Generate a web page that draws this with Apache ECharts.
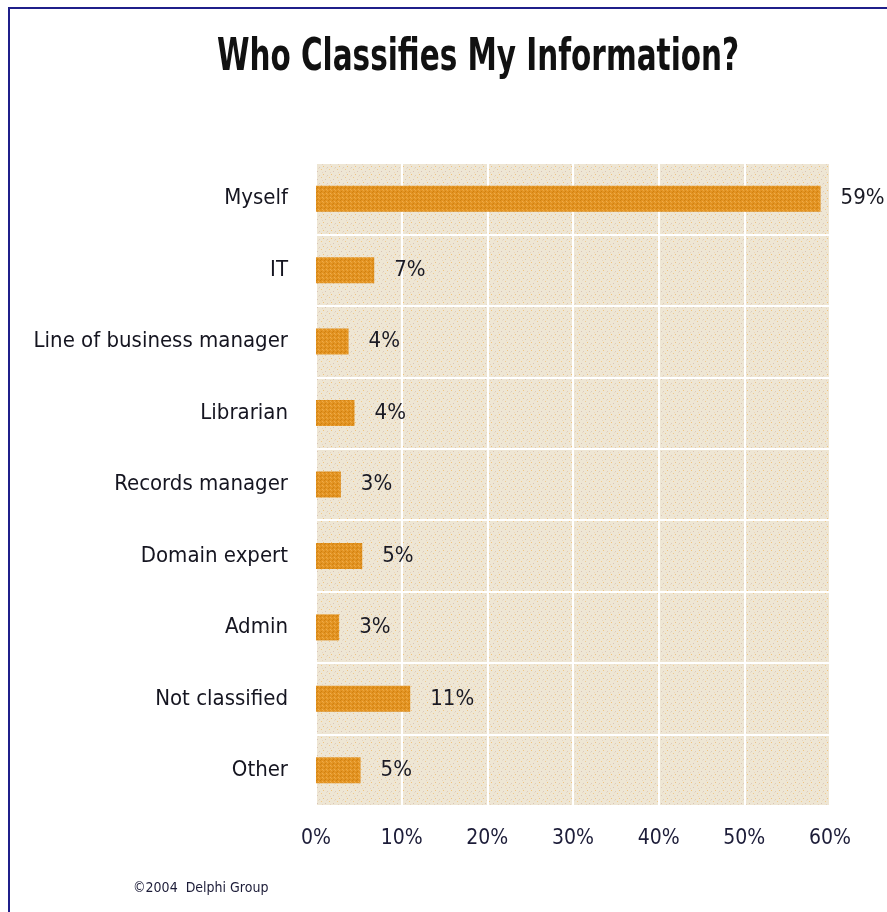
<!DOCTYPE html>
<html>
<head>
<meta charset="utf-8">
<script src="https://cdn.jsdelivr.net/npm/echarts@6/dist/echarts.min.js"></script>
<style>
html,body{margin:0;padding:0;background:#fff;}
#chart{width:887px;height:912px;}
</style>
</head>
<body>
<div id="chart"></div>
<script>
const categories = ["Myself","IT","Line of business manager","Librarian","Records manager","Domain expert","Admin","Not classified","Other"];
const values = [58.9, 6.8, 3.8, 4.5, 2.9, 5.4, 2.7, 11.0, 5.2];
const valueLabels = ["59%","7%","4%","4%","3%","5%","3%","11%","5%"];
const tickValues = [0,10,20,30,40,50,60];
const titleText = 'Who Classifies My Information?';
const sourceText = '©2004  Delphi Group';

function makePattern(base, dots, size){
  const c = document.createElement('canvas');
  c.width = size; c.height = size;
  const g = c.getContext('2d');
  g.fillStyle = base; g.fillRect(0,0,size,size);
  dots.forEach(d => { g.fillStyle = d[2]; g.fillRect(d[0], d[1], 1, 1); });
  return c;
}
const bgPattern = makePattern('#EEE6D4', [[1,1,'#F2C98A'],[5,3,'#D9C3B5'],[3,6,'#F0C27C'],[7,7,'#DCC9BC'],[6,0,'#E8D9C4'],[2,4,'#E6D3C0']], 8);
const barPattern = makePattern('#E39322', [[0,0,'#D08312'],[2,1,'#EDAD4C'],[1,3,'#CE8110'],[3,2,'#E9A740']], 4);

const chart = echarts.init(document.getElementById('chart'), null, {renderer:'canvas'});
const FONT = '"Liberation Sans Narrow", "DejaVu Sans Condensed", "Liberation Sans", sans-serif';
chart.setOption({
  animation: false,
  backgroundColor: '#ffffff',
  grid: {
    left: 316, right: 57, top: 163, bottom: 106,
    show: true, backgroundColor: {image: bgPattern, repeat: 'repeat'}, borderWidth: 0
  },
  xAxis: {
    type: 'value', min: 0, max: 60, interval: 10,
    axisLine: {show: false}, axisTick: {show: false},
    splitLine: {show: true, lineStyle: {color: '#ffffff', width: 2}},
    axisLabel: {
      margin: 22, fontFamily: FONT, fontSize: 21, color: '#1c1c38',
      formatter: v => tickValues.indexOf(v) >= 0 ? v + '%' : ''
    }
  },
  yAxis: {
    type: 'category', data: categories, inverse: true,
    axisLine: {show: false}, axisTick: {show: false},
    splitLine: {show: true, lineStyle: {color: '#ffffff', width: 2}},
    axisLabel: {margin: 28, fontFamily: FONT, fontSize: 22, color: '#151520'}
  },
  series: [{
    type: 'bar', data: values, barWidth: 26,
    itemStyle: {color: {image: barPattern, repeat: 'repeat'}},
    label: {
      show: true, position: 'right', distance: 20,
      fontFamily: FONT, fontSize: 22, color: '#1a1a24',
      formatter: p => valueLabels[p.dataIndex]
    }
  }],
  graphic: [
    {type: 'polyline', shape: {points: [[9, 912], [9, 8], [887, 8]]}, style: {stroke: '#1f1f8a', lineWidth: 2, fill: null}},
    {type: 'text', x: 478, y: 59, scaleX: 0.745,
      style: {text: titleText, font: 'bold 44px "DejaVu Sans Condensed", sans-serif', fill: '#111111', textAlign: 'center', textVerticalAlign: 'middle'}},
    {type: 'text', left: 133, top: 881, style: {text: sourceText, font: '14px "DejaVu Sans Condensed", sans-serif', fill: '#1c1c38'}}
  ]
});
</script>
</body>
</html>
